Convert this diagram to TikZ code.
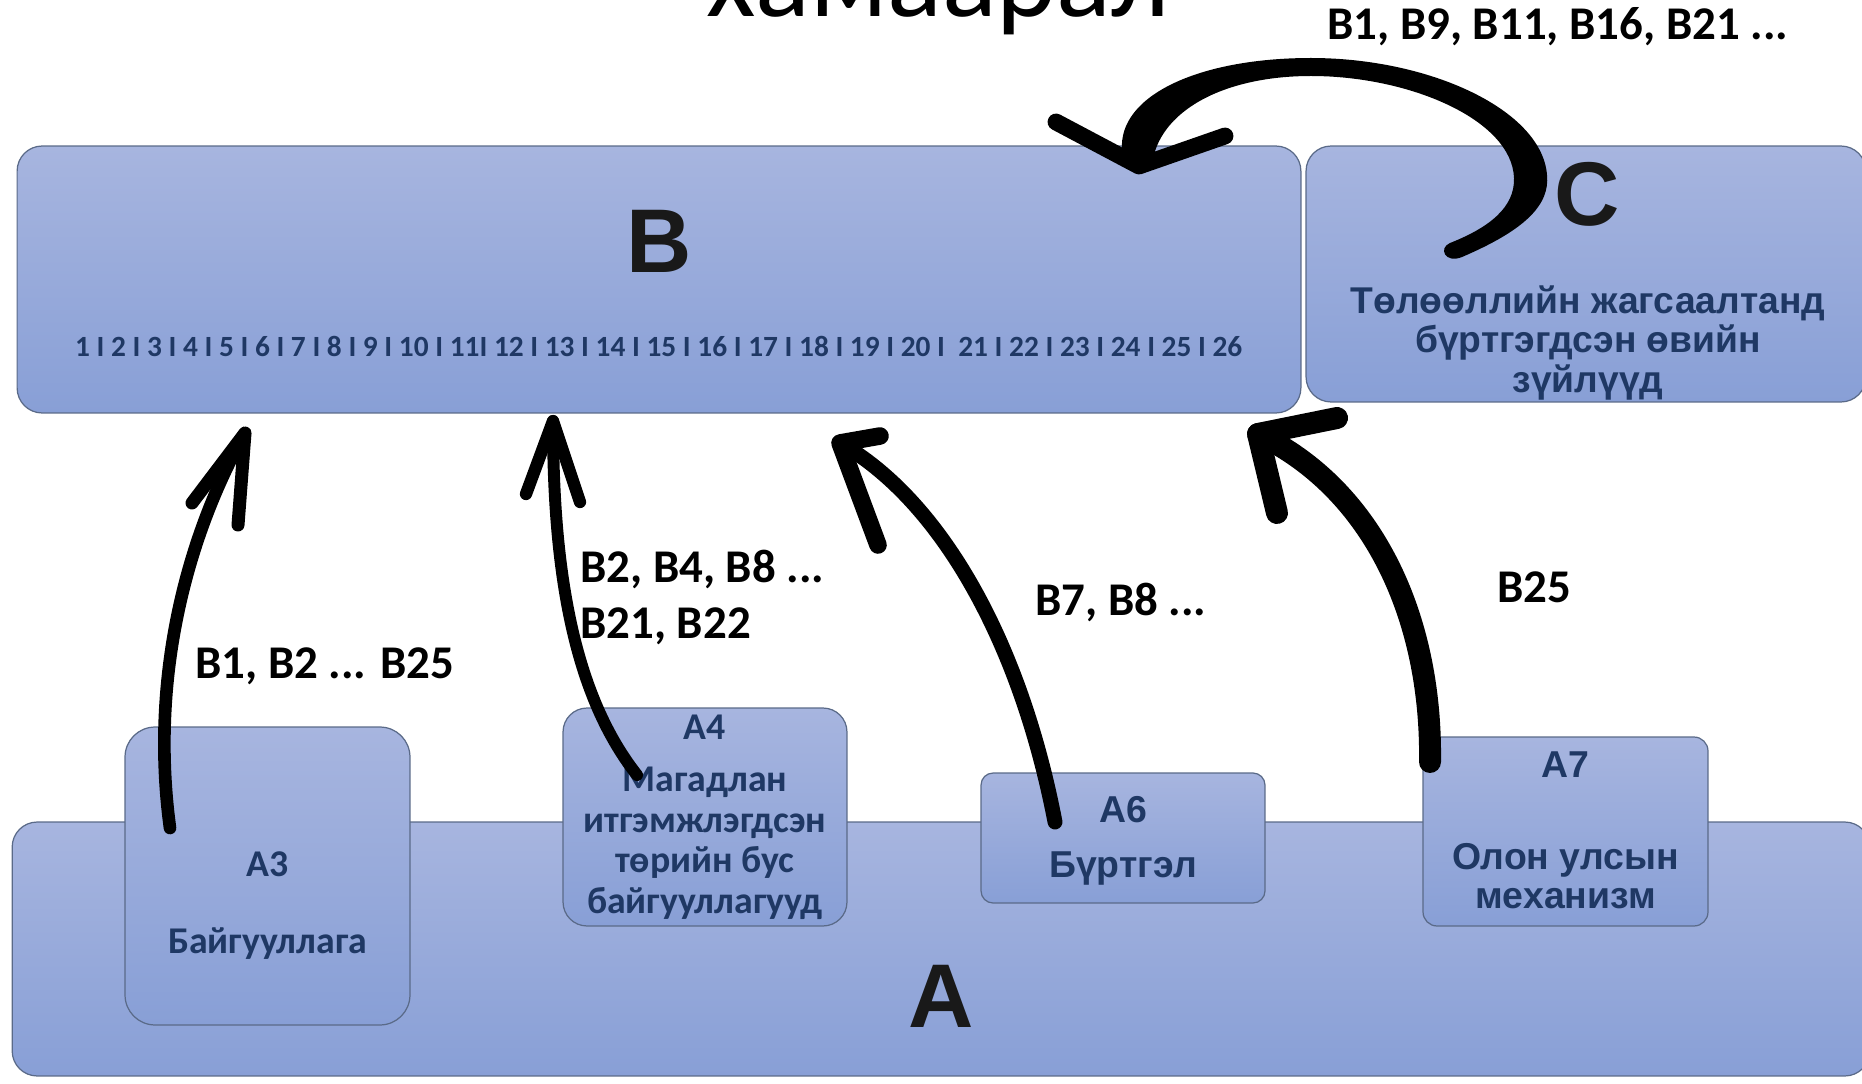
\documentclass[tikz,border=0pt]{standalone}
\usepackage{fontspec}
\setmainfont{Carlito}
\newfontfamily\arialf{Liberation Sans}
\usetikzlibrary{shadings}
\definecolor{boxtop}{HTML}{A7B5DF}
\definecolor{boxbot}{HTML}{889FD6}
\definecolor{boxline}{HTML}{5A6A88}
\definecolor{navy}{HTML}{1F3864}
\definecolor{inkblack}{HTML}{000000}
\definecolor{bigletter}{HTML}{191919}
\begin{document}
\begin{tikzpicture}[x=0.02cm,y=-0.02cm,
  panel/.style={draw=boxline,line width=0.7pt,top color=boxtop,bottom color=boxbot,
    inner sep=0pt,outer sep=0pt,rounded corners=#1},
  bigl/.style={font=\arialf\bfseries\fontsize{51.5}{60}\selectfont,text=bigletter,inner sep=0pt,anchor=base},
  navyc/.style={font=\bfseries\fontsize{21.5}{23}\selectfont,text=navy,inner sep=0pt,align=center},
  navya/.style={font=\arialf\bfseries\fontsize{21.3}{22}\selectfont,text=navy,inner sep=0pt,align=center},
  lbl/.style={font=\bfseries\fontsize{26.7}{31.7}\selectfont,text=black,inner sep=0pt,anchor=base west,align=left},
  ink/.style={draw=inkblack,line width=#1,line cap=round,line join=round}
]
\useasboundingbox (0,0) rectangle (1862,1084);
\clip (0,0) rectangle (1862,1084);

% title
\node[font=\fontsize{65}{70}\selectfont,inner sep=0pt,anchor=base] (title) at (938,17) {хамаарал};

% boxes
\node[panel=0.5cm,minimum width=25.68cm,minimum height=5.34cm] (B) at (659,279.5) {};
\node[panel=0.5cm,minimum width=11.2cm,minimum height=5.12cm] (C) at (1586,274) {};
\node[panel=0.5cm,minimum width=37.16cm,minimum height=5.08cm] (A) at (941,949) {};
\node[panel=0.6cm,minimum width=5.7cm,minimum height=5.96cm] (A3) at (267.5,876) {};
\node[panel=0.48cm,minimum width=5.68cm,minimum height=4.36cm] (A4) at (705,817) {};
\node[panel=0.24cm,minimum width=5.68cm,minimum height=2.6cm] (A6) at (1123,838) {};
\node[panel=0.28cm,minimum width=5.7cm,minimum height=3.78cm] (A7) at (1565.5,831.5) {};

% big letters
\node[bigl] (Bl) at (659,273) {B};
\node[bigl] (Cl) at (1587,226) {C};
\node[bigl] (Al) at (941,1027) {A};

% B numbers
\node[font=\bfseries\fontsize{16.7}{18}\selectfont,text=navy,inner sep=0pt,anchor=base] (Bnums) at (658.5,357)
 {1 I 2 I 3 I 4 I 5 I 6 I 7 I 8 I 9 I 10 I 11I 12 I 13 I 14 I 15 I 16 I 17 I 18 I 19 I 20 I \ 21 I 22 I 23 I 24 I 25 I 26};

% C text (base = last line)
\node[navya,anchor=base,font=\arialf\bfseries\fontsize{21.2}{22.2}\selectfont] (Ct) at (1588,392) {Төлөөллийн жагсаалтанд\\бүртгэгдсэн өвийн\\зүйлүүд};

% A box texts (base = last line)
\node[navyc,anchor=base] (A3t) at (267.5,953) {A3\\[20.8pt]Байгууллага};
\node[navyc,anchor=base] (A4t) at (705,913) {A4\\[7pt]Магадлан\\итгэмжлэгдсэн\\төрийн бус\\байгууллагууд};
\node[navya,anchor=base] (A6t) at (1123,877) {A6\\[9pt]Бүртгэл};
\node[navya,anchor=base] (A7t) at (1565.5,908) {A7\\[30pt]Олон улсын\\механизм};

% labels
\node[lbl] (L1) at (195,678) {B1, B2 ... B25};
\node[lbl] (L2) at (580,638) {B2, B4, B8 ...\\B21, B22};
\node[lbl] (L3) at (1035,615) {B7, B8 ...};
\node[lbl] (L4) at (1497,602) {B25};
\node[lbl] (L5) at (1327,40) {B1, B9, B11, B16, B21 ...};

% arrow coordinates
\coordinate (t1) at (170,828);  \coordinate (h1) at (245,433);
\coordinate (t2) at (637,775);  \coordinate (h2) at (553,421);
\coordinate (t3) at (1055,822); \coordinate (h3) at (840,443);
\coordinate (t4) at (1430,762); \coordinate (h4) at (1258,434);
\coordinate (h5) at (1139,166);

% arrow A3 -> B
\draw[ink=7.2pt] (t1) .. controls (150,680) and (185,540) .. (h1);
\draw[ink=7.4pt] (192,503) -- (h1) -- (238,525);
% arrow A4 -> B
\draw[ink=6.8pt] (t2) .. controls (570,690) and (553,560) .. (h2);
\draw[ink=7pt] (526,494) -- (h2) -- (580,502);
% arrow A6 -> B
\draw[ink=8.5pt] (t3) .. controls (1020,640) and (940,500) .. (h3);
\draw[ink=10pt] (880,436) -- (h3) -- (878,545);
% arrow A7 -> C
\draw[ink=12.5pt] (t4) .. controls (1432,620) and (1375,490) .. (h4);
\draw[ink=12.5pt] (1337,418) -- (h4) -- (1277,513);
% loop C -> B
\fill[inkblack] (1462,257) .. controls (1525,230) and (1550,205) .. (1547,175)
  .. controls (1542,110) and (1430,58) .. (1311,58)
  .. controls (1200,58) and (1118,95) .. (1122,150)
  -- (1130,170) -- (1152,165)
  .. controls (1158,112) and (1222,76) .. (1311,76)
  .. controls (1410,76) and (1512,120) .. (1514,178)
  .. controls (1515,208) and (1488,228) .. (1450,243)
  .. controls (1438,248) and (1445,264) .. (1462,257) -- cycle;
\draw[ink=9.6pt] (1056,122) -- (h5) -- (1225,136);
\end{tikzpicture}
\end{document}
